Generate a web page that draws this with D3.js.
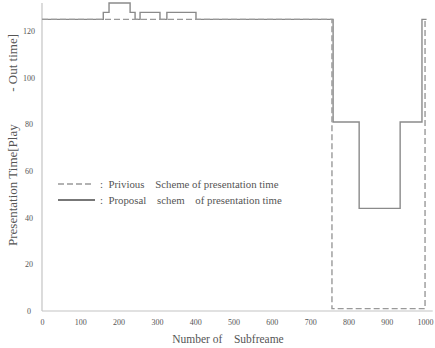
<!DOCTYPE html>
<html>
<head>
<meta charset="utf-8">
<script src="https://cdn.jsdelivr.net/npm/d3@7"></script>
<style>
  body { margin: 0; background: #fff; }
  svg text { font-family: "Times New Roman", "Liberation Serif", "DejaVu Serif", serif !important; fill: #555 !important; white-space: pre; }
</style>
</head>
<body>
<script>
// chart size
var width = 435;
var height = 348;

// step points of the two schemes (subframe, presentation time)
var previousX = [0, 757, 757, 1000, 1000];
var previousY = [125, 125, 1, 1, 125];

var proposalX = [0, 160, 160, 175, 175, 230, 230, 243, 243, 256, 256, 308, 308, 326, 326, 402, 402, 760, 760, 828, 828, 935, 935, 992, 992, 1004];
var proposalY = [125, 125, 128, 128, 132, 132, 128, 128, 125, 125, 128, 128, 125, 125, 128, 128, 125, 125, 81, 81, 44, 44, 81, 81, 125, 125];

var xTicks = [0, 100, 200, 300, 400, 500, 600, 700, 800, 900, 1000];
var yTicks = [0, 20, 40, 60, 80, 100, 120];

var legendLabels = [":  Privious    Scheme of presentation time", ":  Proposal    schem    of presentation time"];

var svg = d3.select("body").append("svg")
    .attr("width", width)
    .attr("height", height);

var x = d3.scaleLinear().domain([0, 1020]).range([42, 432.7]);
var y = d3.scaleLinear().domain([0, 132]).range([311, 3]);

// axes lines
svg.append("line")
    .attr("x1", x(0)).attr("x2", x(0))
    .attr("y1", y(0)).attr("y2", y(132))
    .attr("stroke", "#c4c4c4").attr("stroke-width", 1.2);
svg.append("line")
    .attr("x1", x(0)).attr("x2", x(1020))
    .attr("y1", y(0)).attr("y2", y(0))
    .attr("stroke", "#c4c4c4").attr("stroke-width", 1.2);

// tick labels
var xAxis = svg.append("g")
    .attr("transform", "translate(0," + y(0) + ")")
    .call(d3.axisBottom(x).tickValues(xTicks).tickFormat(d3.format("d")).tickSize(0).tickPadding(8));
xAxis.select(".domain").remove();
xAxis.selectAll("text").attr("font-size", "8px");

var yAxis = svg.append("g")
    .attr("transform", "translate(29,0)")
    .call(d3.axisLeft(y).tickValues(yTicks).tickSize(0).tickPadding(0));
yAxis.select(".domain").remove();
yAxis.selectAll("text")
    .attr("text-anchor", "middle")
    .attr("font-size", "8px");

// the two lines
var line = d3.line()
    .x(function(d) { return x(d[0]); })
    .y(function(d) { return y(d[1]); });

var previous = previousX.map(function(v, i) { return [v, previousY[i]]; });
var proposal = proposalX.map(function(v, i) { return [v, proposalY[i]]; });

svg.append("path")
    .datum(proposal)
    .attr("d", line)
    .attr("fill", "none")
    .attr("stroke", "#8a8a8a")
    .attr("stroke-width", 1.4);

svg.append("path")
    .datum(previous)
    .attr("d", line)
    .attr("fill", "none")
    .attr("stroke", "#999")
    .attr("stroke-width", 1.4)
    .attr("stroke-dasharray", "6,3");

// legend
var legend = svg.append("g");
legend.append("line")
    .attr("x1", 58).attr("x2", 92).attr("y1", 184).attr("y2", 184)
    .attr("stroke", "#999").attr("stroke-width", 1.3)
    .attr("stroke-dasharray", "6,3");
legend.append("line")
    .attr("x1", 58).attr("x2", 95).attr("y1", 200).attr("y2", 200)
    .attr("stroke", "#777").attr("stroke-width", 2.2);
legend.selectAll("text.lab")
    .data(legendLabels)
    .enter().append("text")
    .attr("class", "lab")
    .attr("x", 100)
    .attr("y", function(d, i) { return 187.5 + i * 16; })
    .attr("font-size", "10.8px")
    .text(function(d) { return d; });

// axis titles
svg.append("text")
    .attr("x", 228)
    .attr("y", 343)
    .attr("text-anchor", "middle")
    .attr("font-size", "11.5px")
    .text("Number of    Subfreame");

svg.append("text")
    .attr("transform", "translate(17,140) rotate(-90)")
    .attr("text-anchor", "middle")
    .attr("font-size", "13px")
    .text("Presentation Time[Play          - Out time]");
</script>
</body>
</html>
